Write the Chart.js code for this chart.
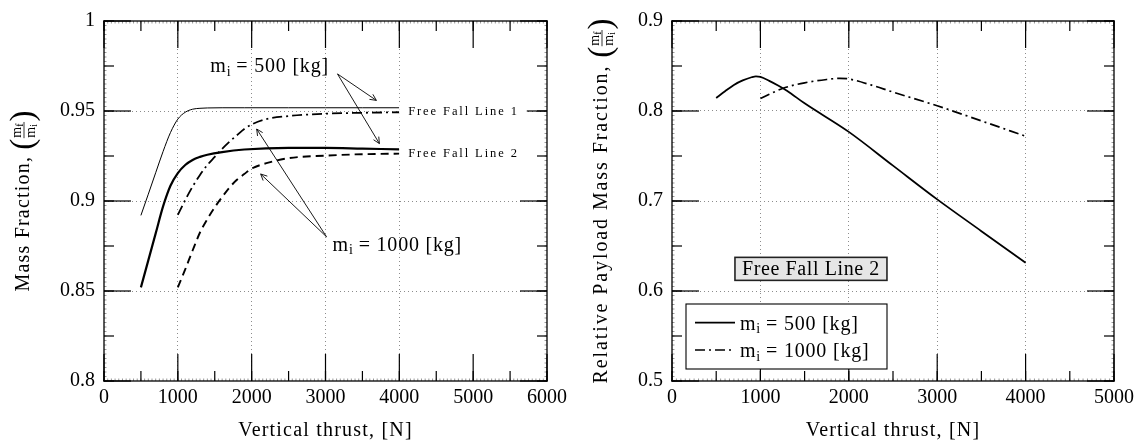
<!DOCTYPE html>
<html>
<head>
<meta charset="utf-8">
<script src="https://cdn.jsdelivr.net/npm/chart.js@4.4.1/dist/chart.umd.min.js"></script>
<style>
  html, body { margin: 0; padding: 0; background: #fff; }
  #wrap { position: relative; width: 1145px; height: 446px; }
  .panel { position: absolute; top: 0; height: 446px; }
  #p1 { left: 0; width: 572px; }
  #p2 { left: 572px; width: 573px; }
</style>
</head>
<body>
<div id="wrap">
  <div class="panel" id="p1"><canvas id="chart1"></canvas></div>
  <div class="panel" id="p2"><canvas id="chart2"></canvas></div>
</div>
<script>
// ---- left panel: mass fraction vs vertical thrust ----
var thrust500 = [500, 600, 700, 800, 900, 1000, 1100, 1200, 1300, 1400, 1600, 1900, 2500, 3000, 3500, 4000];
var fallLine1_500 = [0.892, 0.9038, 0.9157, 0.9275, 0.938, 0.9455, 0.9493, 0.951, 0.9515, 0.9517, 0.9518, 0.9518, 0.9518, 0.9518, 0.9518, 0.9518];
var fallLine2_500 = [0.852, 0.867, 0.882, 0.897, 0.9085, 0.9155, 0.92, 0.9228, 0.9245, 0.9257, 0.9272, 0.9286, 0.9295, 0.9295, 0.9291, 0.9287];
var thrust1000 = [1000, 1100, 1200, 1300, 1400, 1500, 1600, 1700, 1800, 1900, 2000, 2200, 2500, 3000, 3500, 4000];
var fallLine1_1000 = [0.8923, 0.9005, 0.908, 0.9145, 0.92, 0.9245, 0.929, 0.933, 0.9365, 0.94, 0.9425, 0.9455, 0.9472, 0.9485, 0.949, 0.9493];
var fallLine2_1000 = [0.852, 0.862, 0.8725, 0.8825, 0.89, 0.8965, 0.9022, 0.9075, 0.9118, 0.915, 0.918, 0.921, 0.9238, 0.9252, 0.926, 0.9263];

var leftXTicks = [0, 1000, 2000, 3000, 4000, 5000, 6000];
var leftYTicks = [0.8, 0.85, 0.9, 0.95, 1];
var leftXGrid = [1000, 2000, 3000, 4000];
var leftYGrid = [0.85, 0.9, 0.95];

// ---- right panel: relative payload mass fraction (free fall line 2) ----
var relThrust500 = [500, 600, 700, 800, 900, 950, 1000, 1100, 1200, 1300, 1500, 2000, 2500, 3000, 3500, 4000];
var relFrac500 = [0.8145, 0.822, 0.829, 0.834, 0.8375, 0.8385, 0.8378, 0.8335, 0.8283, 0.8225, 0.8085, 0.7768, 0.7393, 0.7018, 0.6665, 0.6313];
var relThrust1000 = [1000, 1250, 1500, 1750, 1900, 2000, 2250, 2500, 3000, 3500, 4000];
var relFrac1000 = [0.8138, 0.825, 0.8313, 0.835, 0.8363, 0.8356, 0.829, 0.821, 0.8058, 0.789, 0.772];

var rightXTicks = [0, 1000, 2000, 3000, 4000, 5000];
var rightYTicks = [0.5, 0.6, 0.7, 0.8, 0.9];
var rightXGrid = [1000, 2000, 3000, 4000];
var rightYGrid = [0.6, 0.7, 0.8];

var SERIF = '"Liberation Serif", "Times New Roman", serif';
var DASHDOT = [10, 4, 2, 4];

function pts(xs, ys) {
  return xs.map(function (x, i) { return { x: x, y: ys[i] }; });
}

function font(ctx, size, ls) {
  ctx.font = size + 'px ' + SERIF;
  ctx.letterSpacing = (ls || 0) + 'px';
}

// parts: [[text, isSubscript], ...]
function richWidth(ctx, parts, size, ls) {
  var w = 0;
  parts.forEach(function (p) {
    font(ctx, p[1] ? size * 0.7 : size, p[1] ? 0 : ls);
    w += ctx.measureText(p[0]).width;
  });
  return w;
}

function drawRich(ctx, parts, x, y, size, ls, align) {
  var w = richWidth(ctx, parts, size, ls);
  if (align === 'center') x -= w / 2;
  else if (align === 'right') x -= w;
  ctx.textAlign = 'left';
  ctx.textBaseline = 'alphabetic';
  ctx.fillStyle = '#000';
  parts.forEach(function (p) {
    font(ctx, p[1] ? size * 0.7 : size, p[1] ? 0 : ls);
    ctx.fillText(p[0], x, p[1] ? y + size * 0.18 : y);
    x += ctx.measureText(p[0]).width;
  });
  return w;
}

function massLabel(kg) {
  return [['m', false], ['i', true], [' = ' + kg + ' [kg]', false]];
}

// y title with (m_f / m_i) fraction, rotated
function drawYTitle(ctx, label, cx, cy, ls) {
  ctx.save();
  ctx.translate(cx, cy);
  ctx.rotate(-Math.PI / 2);
  ctx.fillStyle = '#000';
  ctx.textAlign = 'left';
  ctx.textBaseline = 'alphabetic';
  font(ctx, 20, ls);
  var wMain = ctx.measureText(label).width;
  font(ctx, 14, 0);
  var wm = ctx.measureText('m').width;
  font(ctx, 10, 0);
  var wsub = Math.max(ctx.measureText('f').width, ctx.measureText('i').width);
  var wFrac = wm + wsub + 3;
  font(ctx, 33, 0);
  var wp = ctx.measureText('(').width;
  var W = wMain + wp * 2 + wFrac;
  var x = -W / 2, axis = 0, base = 5;

  font(ctx, 20, ls);
  ctx.fillText(label, x, base);
  x += wMain;
  font(ctx, 33, 0);
  ctx.fillText('(', x, axis + 8.5);
  x += wp;
  // numerator
  font(ctx, 14, 0);
  ctx.fillText('m', x + 1, axis - 3);
  font(ctx, 10, 0);
  ctx.fillText('f', x + 1 + wm, axis - 1);
  // denominator
  font(ctx, 14, 0);
  ctx.fillText('m', x + 1, axis + 11);
  font(ctx, 10, 0);
  ctx.fillText('i', x + 1 + wm, axis + 13);
  ctx.fillRect(x + 0.5, axis - 0.4, wFrac - 1, 0.8);
  x += wFrac;
  font(ctx, 33, 0);
  ctx.fillText(')', x, axis + 8.5);
  ctx.restore();
}

function drawXTitle(chart, text) {
  var ctx = chart.ctx, a = chart.chartArea;
  ctx.save();
  font(ctx, 20, 1.2);
  ctx.fillStyle = '#000';
  ctx.textAlign = 'center';
  ctx.textBaseline = 'alphabetic';
  ctx.fillText(text, (a.left + a.right) / 2, 436);
  ctx.restore();
}

// inward ticks on both sides of one axis, every `step`, `len` px long
function tickRow(chart, scale, horiz, step, len, color, width) {
  var ctx = chart.ctx, a = chart.chartArea;
  var n = Math.round((scale.max - scale.min) / step);
  ctx.fillStyle = color;
  for (var i = 0; i <= n; i++) {
    var p = scale.getPixelForValue(scale.min + i * step) - width / 2;
    if (horiz) {
      ctx.fillRect(p, a.bottom - len, width, len);
      ctx.fillRect(p, a.top, width, len);
    } else {
      ctx.fillRect(a.left, p, len, width);
      ctx.fillRect(a.right - len, p, len, width);
    }
  }
}

function drawFrame(chart, xs, ys) {
  var ctx = chart.ctx, a = chart.chartArea;
  var sx = chart.scales.x, sy = chart.scales.y;
  ctx.save();
  tickRow(chart, sx, true, xs.hair, 2.5, '#9a9a9a', 1);
  tickRow(chart, sy, false, ys.hair, 2.5, '#9a9a9a', 1);
  tickRow(chart, sx, true, xs.minor, 10, '#000000', 1.2);
  tickRow(chart, sy, false, ys.minor, 10, '#000000', 1.2);
  tickRow(chart, sx, true, xs.major, 27, '#000000', 1.2);
  tickRow(chart, sy, false, ys.major, 27, '#000000', 1.2);
  ctx.fillStyle = '#000';
  var w = a.right - a.left, h = a.bottom - a.top;
  ctx.fillRect(a.left - 0.65, a.top - 0.65, w + 1.3, 1.3);
  ctx.fillRect(a.left - 0.65, a.bottom - 0.65, w + 1.3, 1.3);
  ctx.fillRect(a.left - 0.65, a.top - 0.65, 1.3, h + 1.3);
  ctx.fillRect(a.right - 0.65, a.top - 0.65, 1.3, h + 1.3);
  ctx.restore();
}

function arrow(ctx, x0, y0, x1, y1) {
  var ang = Math.atan2(y1 - y0, x1 - x0), h = 7;
  ctx.beginPath();
  ctx.moveTo(x0, y0);
  ctx.lineTo(x1, y1);
  ctx.moveTo(x1 - h * Math.cos(ang - 0.45), y1 - h * Math.sin(ang - 0.45));
  ctx.lineTo(x1, y1);
  ctx.lineTo(x1 - h * Math.cos(ang + 0.45), y1 - h * Math.sin(ang + 0.45));
  ctx.stroke();
}

function gridColor(vals) {
  return function (c) {
    return (c.tick && vals.indexOf(c.tick.value) >= 0) ? '#8c8c8c' : 'rgba(0,0,0,0)';
  };
}

function makeScales(xMax, yMin, yMax, xTicks, yTicks, xGrid, yGrid, yWidth) {
  var tickFont = { family: SERIF, size: 20 };
  return {
    x: {
      type: 'linear', min: 0, max: xMax,
      afterBuildTicks: function (s) { s.ticks = xTicks.map(function (v) { return { value: v }; }); },
      afterFit: function (s) { s.height = 65; },
      grid: { color: gridColor(xGrid), lineWidth: 1, drawTicks: false },
      border: { display: false, dash: [1, 3] },
      ticks: { font: tickFont, color: '#000', padding: 5, autoSkip: false, maxRotation: 0,
               callback: function (v) { return String(v); } }
    },
    y: {
      type: 'linear', min: yMin, max: yMax,
      afterBuildTicks: function (s) { s.ticks = yTicks.map(function (v) { return { value: v }; }); },
      afterFit: function (s) { s.width = yWidth; },
      grid: { color: gridColor(yGrid), lineWidth: 1, drawTicks: false },
      border: { display: false, dash: [1, 3] },
      ticks: { font: tickFont, color: '#000', padding: 9, autoSkip: false,
               callback: function (v) { return String(+v.toFixed(3)); } }
    }
  };
}

var baseLine = { pointRadius: 0, fill: false, cubicInterpolationMode: 'monotone', borderColor: '#000' };

function line(label, data, width, dash) {
  return Object.assign({}, baseLine, { label: label, data: data, borderWidth: width, borderDash: dash || [] });
}

// left chart
new Chart(document.getElementById('chart1'), {
  type: 'line',
  data: {
    datasets: [
      line('Free Fall Line 1, 500 kg', pts(thrust500, fallLine1_500), 1),
      line('Free Fall Line 2, 500 kg', pts(thrust500, fallLine2_500), 2.2),
      line('Free Fall Line 1, 1000 kg', pts(thrust1000, fallLine1_1000), 1.8, DASHDOT),
      line('Free Fall Line 2, 1000 kg', pts(thrust1000, fallLine2_1000), 1.9, [8, 5])
    ]
  },
  options: {
    responsive: true, maintainAspectRatio: false, animation: false,
    layout: { padding: { left: 0, right: 24, top: 14, bottom: 0 } },
    plugins: { legend: { display: false }, tooltip: { enabled: false } },
    scales: makeScales(6000, 0.8, 1, leftXTicks, leftYTicks, leftXGrid, leftYGrid, 104)
  },
  plugins: [{
    id: 'leftDecor',
    afterDraw: function (chart) {
      var ctx = chart.ctx, sx = chart.scales.x, sy = chart.scales.y, a = chart.chartArea;
      function P(x, y) { return [sx.getPixelForValue(x), sy.getPixelForValue(y)]; }
      drawFrame(chart, { major: 1000, minor: 500, hair: 50 }, { major: 0.05, minor: 0.025, hair: 0.0025 });

      ctx.save();
      ctx.setLineDash([]);
      // free fall line labels with white boxes
      [['Free Fall Line 1', 0.95], ['Free Fall Line 2', 0.927]].forEach(function (l) {
        var p = P(4120, l[1]);
        font(ctx, 12.5, 1.9);
        var w = ctx.measureText(l[0]).width;
        ctx.fillStyle = '#fff';
        ctx.fillRect(p[0] - 9, p[1] - 8, w + 17, 16);
        ctx.fillStyle = '#000';
        ctx.textAlign = 'left';
        ctx.textBaseline = 'middle';
        ctx.fillText(l[0], p[0], p[1] + 1);
      });

      // annotations
      var t1 = P(2243, 0.9714), t2 = P(3973, 0.8723);
      drawRich(ctx, massLabel(500), t1[0], t1[1], 20, 0.8, 'center');
      drawRich(ctx, massLabel(1000), t2[0], t2[1], 20, 0.8, 'center');
      ctx.strokeStyle = '#000';
      ctx.lineWidth = 0.9;
      var s1 = P(3162, 0.9706), s2 = P(3014, 0.8801);
      var e1 = P(3689, 0.9559), e2 = P(3730, 0.9319), e3 = P(2068, 0.940), e4 = P(2122, 0.915);
      arrow(ctx, s1[0], s1[1], e1[0], e1[1]);
      arrow(ctx, s1[0], s1[1], e2[0], e2[1]);
      arrow(ctx, s2[0], s2[1], e3[0], e3[1]);
      arrow(ctx, s2[0], s2[1], e4[0], e4[1]);
      ctx.restore();

      drawYTitle(ctx, 'Mass Fraction, ', 24, (a.top + a.bottom) / 2, 1.2);
      drawXTitle(chart, 'Vertical thrust, [N]');
    }
  }]
});

// right chart
new Chart(document.getElementById('chart2'), {
  type: 'line',
  data: {
    datasets: [
      line('m_i = 500 [kg]', pts(relThrust500, relFrac500), 1.8),
      line('m_i = 1000 [kg]', pts(relThrust1000, relFrac1000), 1.7, DASHDOT)
    ]
  },
  options: {
    responsive: true, maintainAspectRatio: false, animation: false,
    layout: { padding: { left: 0, right: 31, top: 14, bottom: 0 } },
    plugins: { legend: { display: false }, tooltip: { enabled: false } },
    scales: makeScales(5000, 0.5, 0.9, rightXTicks, rightYTicks, rightXGrid, rightYGrid, 100)
  },
  plugins: [{
    id: 'rightDecor',
    afterDraw: function (chart) {
      var ctx = chart.ctx, sx = chart.scales.x, sy = chart.scales.y, a = chart.chartArea;
      drawFrame(chart, { major: 1000, minor: 500, hair: 50 }, { major: 0.1, minor: 0.05, hair: 0.005 });

      ctx.save();
      ctx.setLineDash([]);
      // "Free Fall Line 2" tag
      var cx = sx.getPixelForValue(1572), cy = sy.getPixelForValue(0.6246);
      ctx.fillStyle = '#e6e6e6';
      ctx.fillRect(cx - 76, cy - 11.5, 152, 23);
      ctx.strokeStyle = '#222';
      ctx.lineWidth = 1.6;
      ctx.strokeRect(cx - 76, cy - 11.5, 152, 23);
      font(ctx, 20, 0.6);
      ctx.fillStyle = '#000';
      ctx.textAlign = 'center';
      ctx.textBaseline = 'alphabetic';
      ctx.fillText('Free Fall Line 2', cx, cy + 6.5);

      // legend
      var lx = a.left + 14, ly = a.bottom - 77, lw = 201, lh = 65;
      ctx.fillStyle = '#fff';
      ctx.fillRect(lx, ly, lw, lh);
      ctx.strokeStyle = '#000';
      ctx.lineWidth = 1.1;
      ctx.strokeRect(lx, ly, lw, lh);
      var kgs = [500, 1000];
      chart.data.datasets.forEach(function (ds, i) {
        var y = ly + 18.7 + i * 27.3;
        ctx.strokeStyle = '#000';
        ctx.lineWidth = ds.borderWidth;
        ctx.setLineDash(ds.borderDash);
        ctx.beginPath();
        ctx.moveTo(lx + 9, y);
        ctx.lineTo(lx + 49, y);
        ctx.stroke();
        ctx.setLineDash([]);
        drawRich(ctx, massLabel(kgs[i]), lx + 54, y + 7, 20, 0.8, 'left');
      });
      ctx.restore();

      drawYTitle(ctx, 'Relative Payload Mass Fraction, ', 30, (a.top + a.bottom) / 2, 1.9);
      drawXTitle(chart, 'Vertical thrust, [N]');
    }
  }]
});
</script>
</body>
</html>
